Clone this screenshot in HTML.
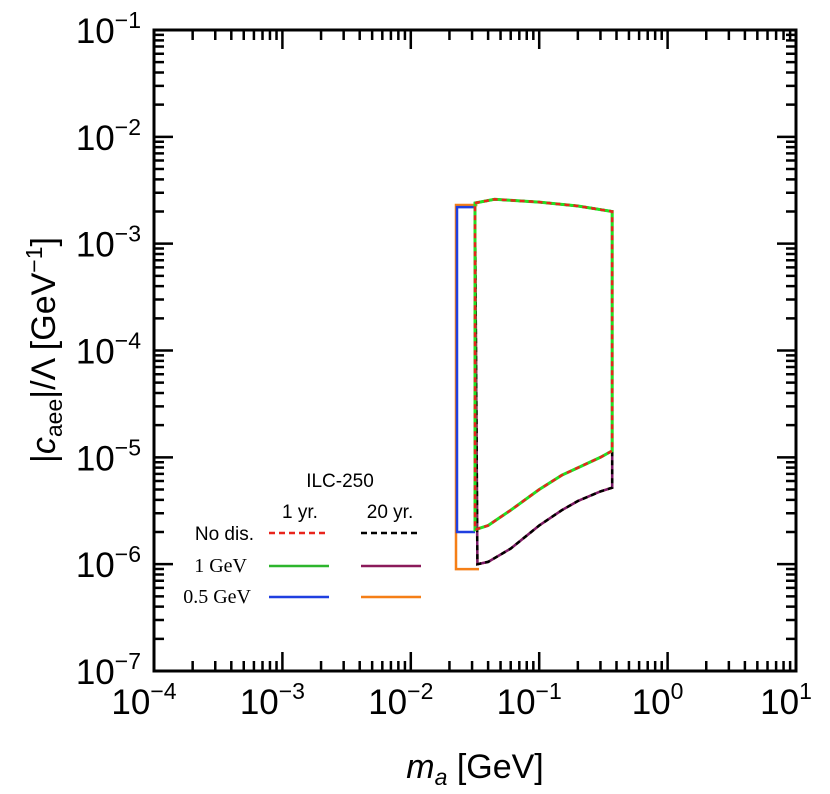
<!DOCTYPE html>
<html><head><meta charset="utf-8"><style>
html,body{margin:0;padding:0;background:#fff;}
svg{display:block;font-family:"Liberation Sans",sans-serif;}
</style></head><body>
<svg id="chart" width="830" height="794" viewBox="0 0 830 794">
<g id="curves"></g>
<g id="axes"></g>
<text x="475" y="778" font-size="34" text-anchor="middle"><tspan font-style="italic">m</tspan><tspan font-style="italic" font-size="23" dy="7">a</tspan><tspan dy="-7"> [GeV]</tspan></text>
<text transform="translate(55,350) rotate(-90)" font-size="34" text-anchor="middle">|<tspan font-style="italic">c</tspan><tspan font-size="23" dy="7">aee</tspan><tspan dy="-7">|/Λ [GeV</tspan><tspan font-size="23" dy="-13">−1</tspan><tspan dy="13">]</tspan></text>
<g font-size="19">
<text x="340" y="487" text-anchor="middle">ILC-250</text>
<text x="300" y="518" text-anchor="middle">1 yr.</text>
<text x="390" y="518" text-anchor="middle">20 yr.</text>
<text x="254" y="540" text-anchor="end">No dis.</text>
<text x="247" y="572" text-anchor="end" font-size="20" font-family="Liberation Serif,serif">1 GeV</text>
<text x="251" y="603" text-anchor="end" font-size="20" font-family="Liberation Serif,serif">0.5 GeV</text>
<line x1="269" y1="533" x2="329" y2="533" stroke="#e8241c" stroke-width="2.5" stroke-dasharray="6,4"/>
<line x1="361" y1="533" x2="421" y2="533" stroke="#000" stroke-width="2.5" stroke-dasharray="6,4"/>
<line x1="269" y1="566" x2="329" y2="566" stroke="#2db52d" stroke-width="2.5"/>
<line x1="361" y1="566" x2="421" y2="566" stroke="#8b1a5a" stroke-width="2.5"/>
<line x1="269" y1="597" x2="329" y2="597" stroke="#1f3fe0" stroke-width="2.5"/>
<line x1="361" y1="597" x2="421" y2="597" stroke="#f57f17" stroke-width="2.5"/>
</g>
</svg>
<script>
// data
const xDecades = [-4,-3,-2,-1,0,1];
const yDecades = [-7,-6,-5,-4,-3,-2,-1];
const topM = [0.0316,0.045,0.1,0.2,0.37];
const topC = [2.4e-3,2.6e-3,2.45e-3,2.25e-3,2.0e-3];
const low1M = [0.0316,0.04,0.06,0.1,0.15,0.2,0.3,0.37];
const low1C = [2.1e-6,2.3e-6,3.2e-6,5.0e-6,6.8e-6,8.0e-6,1.0e-5,1.15e-5];
const low20M = [0.033,0.04,0.06,0.1,0.15,0.2,0.3,0.37];
const low20C = [1.0e-6,1.05e-6,1.4e-6,2.3e-6,3.2e-6,3.9e-6,4.8e-6,5.2e-6];
const blueLeftM = 0.0229, blueTopC = 2.2e-3, blueBotC = 2.0e-6;
const orangeLeftM = 0.0225, orangeTopC = 2.3e-3, orangeBotC = 9.0e-7;

const X0=154, X1=796, Y0=671, Y1=30;
function sx(m){return X0+(Math.log10(m)+4)/5*(X1-X0);}
function sy(c){return Y0-(Math.log10(c)+7)/6*(Y0-Y1);}
const NS="http://www.w3.org/2000/svg";
function mk(tag,attrs,parent){const e=document.createElementNS(NS,tag);for(const k in attrs)e.setAttribute(k,attrs[k]);parent.appendChild(e);return e;}
function pts(ms,cs){return ms.map((m,i)=>[sx(m),sy(cs[i])]);}
function toD(p){return p.map((q,i)=>(i?'L':'M')+q[0].toFixed(1)+','+q[1].toFixed(1)).join(' ');}

const topP = pts(topM,topC);
const low1P = pts(low1M,low1C).reverse();
const low20P = pts(low20M,low20C).reverse();
const path1 = toD([...topP,...low1P])+' Z';
const path20 = toD([...topP,...low20P])+' Z';
const blueExtra = toD([[sx(low1M[0]),sy(blueTopC)],[sx(blueLeftM),sy(blueTopC)],[sx(blueLeftM),sy(blueBotC)],[sx(low1M[0]),sy(blueBotC)]]);
const orangeExtra = toD([[sx(low20M[0]),sy(orangeTopC)],[sx(orangeLeftM),sy(orangeTopC)],[sx(orangeLeftM),sy(orangeBotC)],[sx(0.034),sy(orangeBotC)]]);

const g=document.getElementById('curves');
let e;
e=mk('path',{d:path20+' '+orangeExtra,fill:'none',stroke:'#f57f17','stroke-width':2.5},g);


e=mk('path',{d:path1+' '+blueExtra,fill:'none',stroke:'#1f3fe0','stroke-width':2.5},g);


e=mk('path',{d:path20,fill:'none',stroke:'#7a1a6a','stroke-width':2.5},g);


e=mk('path',{d:path20,fill:'none',stroke:'#000','stroke-width':2.5,'stroke-dasharray':'5,4'},g);


e=mk('path',{d:path1,fill:'none',stroke:'#22e022','stroke-width':3},g);


e=mk('path',{d:path1,fill:'none',stroke:'#e8241c','stroke-width':2.5,'stroke-dasharray':'5,4'},g);



const a=document.getElementById('axes');
e=mk('rect',{x:X0,y:Y1,width:X1-X0,height:Y0-Y1,fill:'none',stroke:'#000','stroke-width':3},a);


let tk='';
xDecades.forEach((d,i)=>{
  for(let k=1;k<10;k++){
    if(i===xDecades.length-1&&k>1)break;
    const x=sx(k*Math.pow(10,d)); const L=k===1?19:10;
    tk+=`M${x},${Y0}v${-L}M${x},${Y1}v${L}`;
  }
});
yDecades.forEach((d,i)=>{
  for(let k=1;k<10;k++){
    if(i===yDecades.length-1&&k>1)break;
    const y=sy(k*Math.pow(10,d)); const L=k===1?19:10;
    tk+=`M${X0},${y}h${L}M${X1},${y}h${-L}`;
  }
});
e=mk('path',{d:tk,stroke:'#000','stroke-width':2.5,fill:'none'},a);


xDecades.forEach(d=>{
  const t=mk('text',{x:sx(Math.pow(10,d))-10,y:714,'font-size':35,'text-anchor':'middle'},a);
  t.innerHTML='10<tspan font-size="23" dy="-15">'+(d<0?'−'+(-d):d)+'</tspan>';
  
  
});
yDecades.forEach(d=>{
  const t=mk('text',{x:141,y:sy(Math.pow(10,d))+13,'font-size':35,'text-anchor':'end'},a);
  t.innerHTML='10<tspan font-size="23" dy="-15">'+(d<0?'−'+(-d):d)+'</tspan>';
  
  
});
</script>
</body></html>
